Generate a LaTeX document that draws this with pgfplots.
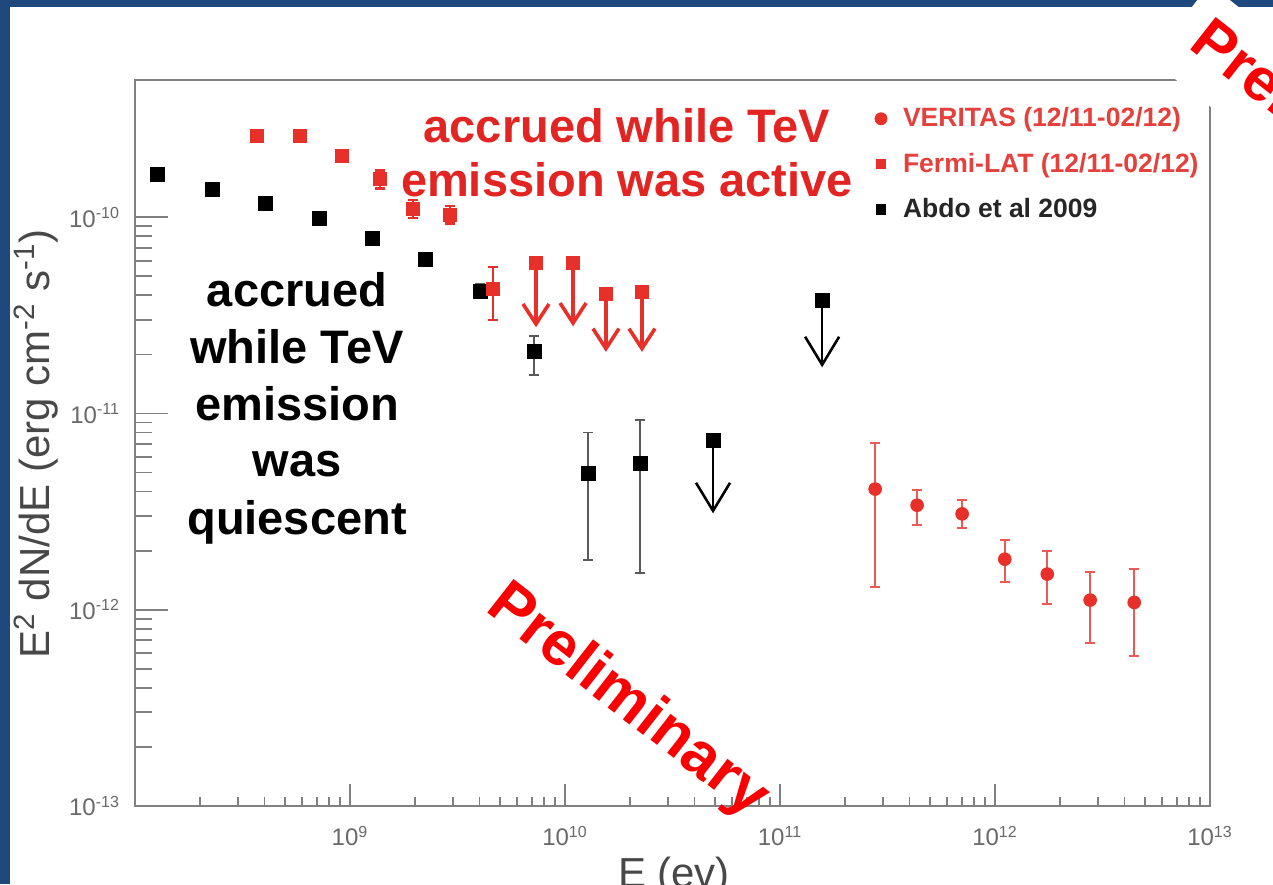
\documentclass[border=0pt]{standalone}
\usepackage{pgfplots}
\pgfplotsset{compat=1.18}
\usepackage{fontspec}
\setmainfont{Liberation Sans}
\usetikzlibrary{arrows.meta}

\definecolor{frameblue}{RGB}{31,73,125}
\definecolor{datared}{RGB}{232,48,42}
\definecolor{barred}{RGB}{236,90,85}
\definecolor{legendred}{RGB}{228,64,60}
\definecolor{textred}{RGB}{226,36,34}
\definecolor{prelimred}{RGB}{250,0,0}
\definecolor{axisgray}{RGB}{128,128,128}
\definecolor{labelgray}{RGB}{72,72,72}
\definecolor{ticklabelgray}{RGB}{105,105,105}
\definecolor{bargray}{RGB}{90,90,90}

\begin{document}
\begin{tikzpicture}[x=0.5pt,y=0.5pt]
\path[use as bounding box] (0,0) rectangle (1273,884);
\clip (0,0) rectangle (1273,884);
% slide frame
\fill[frameblue] (0,0) rectangle (1273,884);
\fill[white] (10,-20) rectangle (1300,877);

% left axis: y ticks (longer tick marks)
\begin{loglogaxis}[
  at={(67.5pt,39pt)}, anchor=south west,
  scale only axis, width=537.5pt, height=363pt,
  xmin=1e8, xmax=1e13, ymin=1e-13, ymax=5e-10,
  axis line style={axisgray, line width=1.3pt},
  tick align=inside, tick pos=left,
  tick style={axisgray, line width=0.9pt},
  tick label style={text=ticklabelgray, font=\fontsize{12}{14}\selectfont},
  yticklabel style={xshift=-4pt},
  hide x axis,
  major tick length=16.5pt, minor tick length=8.5pt,
  ytick={1e-13,1e-12,1e-11,1e-10},
  yticklabels={10\textsuperscript{-13},10\textsuperscript{-12},10\textsuperscript{-11},10\textsuperscript{-10}},
]
\end{loglogaxis}

% bottom axis, data and legend
\begin{loglogaxis}[
  at={(67.5pt,39pt)}, anchor=south west,
  scale only axis, width=537.5pt, height=363pt,
  xmin=1e8, xmax=1e13, ymin=1e-13, ymax=5e-10,
  axis line style={axisgray, line width=1.3pt},
  tick align=inside, tick pos=left,
  tick style={axisgray, line width=0.9pt},
  tick label style={text=ticklabelgray, font=\fontsize{12}{14}\selectfont},
  major tick length=11pt, minor tick length=4.5pt,
  ytick=\empty, yminorticks=false,
  xtick={1e8,1e9,1e10,1e11,1e12,1e13},
  xticklabels={,10\textsuperscript{9},10\textsuperscript{10},10\textsuperscript{11},10\textsuperscript{12},10\textsuperscript{13}},
  xticklabel style={yshift=-6.5pt},
  legend style={at={(0.688,0.968)}, anchor=north west, draw=none, fill=none,
    font=\bfseries\fontsize{13.25}{15}\selectfont, row sep=7.5pt, inner sep=0pt,
    /tikz/every odd column/.append style={column sep=6pt}},
  legend cell align=left,
  legend image code/.code={\draw[#1] plot coordinates {(0.15cm,0cm)};},
]
% upper limits: Abdo et al 2009
\addplot[forget plot, black, line width=1.3pt, -{Straight Barb[length=14pt,width=17pt,line width=1.3pt]}]
  coordinates {(4.88e10,7.3e-12) (4.88e10,3.1e-12)};
\addplot[forget plot, black, line width=1.3pt, -{Straight Barb[length=14pt,width=17pt,line width=1.3pt]}]
  coordinates {(1.57e11,3.78e-11) (1.57e11,1.72e-11)};
% upper limits: Fermi-LAT
\addplot[forget plot, datared, line width=1.8pt, -{Straight Barb[length=10pt,width=13pt,line width=1.8pt]}]
  coordinates {(7.33e9,5.83e-11) (7.33e9,2.75e-11)};
\addplot[forget plot, datared, line width=1.8pt, -{Straight Barb[length=10pt,width=13pt,line width=1.8pt]}]
  coordinates {(1.09e10,5.83e-11) (1.09e10,2.78e-11)};
\addplot[forget plot, datared, line width=1.8pt, -{Straight Barb[length=10pt,width=13pt,line width=1.8pt]}]
  coordinates {(1.55e10,4.05e-11) (1.55e10,2.06e-11)};
\addplot[forget plot, datared, line width=1.8pt, -{Straight Barb[length=10pt,width=13pt,line width=1.8pt]}]
  coordinates {(2.28e10,4.15e-11) (2.28e10,2.06e-11)};

% Abdo et al 2009
\addplot[forget plot, only marks, mark=square*, mark size=3.5pt, black,
  error bars/.cd, y dir=both, y explicit,
  error bar style={bargray, line width=0.9pt},
  error mark options={rotate=90, mark size=2.5pt, bargray, line width=0.9pt}]
coordinates {
  (1.265e8,1.66e-10) += (0,0) -= (0,0)
  (2.28e8,1.39e-10)  += (0,0) -= (0,0)
  (4.03e8,1.17e-10)  += (0,0) -= (0,0)
  (7.18e8,9.9e-11)   += (0,0) -= (0,0)
  (1.265e9,7.8e-11)  += (0,0) -= (0,0)
  (2.25e9,6.1e-11)   += (0,0) -= (0,0)
  (4.03e9,4.2e-11)   += (0,3.5e-12) -= (0,3.5e-12)
  (7.18e9,2.06e-11)  += (0,0.42e-11) -= (0,0.49e-11)
  (1.28e10,4.96e-12) += (0,3.04e-12) -= (0,3.17e-12)
  (2.23e10,5.58e-12) += (0,3.67e-12) -= (0,4.04e-12)
  (4.88e10,7.3e-12)  += (0,0) -= (0,0)
  (1.57e11,3.78e-11) += (0,0) -= (0,0)
};

% VERITAS (12/11-02/12)
\addplot[forget plot, only marks, mark=*, mark size=3.2pt, datared,
  error bars/.cd, y dir=both, y explicit,
  error bar style={barred, line width=0.9pt},
  error mark options={rotate=90, mark size=2.5pt, barred, line width=0.9pt}]
coordinates {
  (2.77e11,4.12e-12) += (0,2.94e-12) -= (0,2.81e-12)
  (4.34e11,3.41e-12) += (0,0.66e-12) -= (0,0.71e-12)
  (7.03e11,3.08e-12) += (0,0.54e-12) -= (0,0.47e-12)
  (1.11e12,1.81e-12) += (0,0.45e-12) -= (0,0.43e-12)
  (1.75e12,1.52e-12) += (0,0.47e-12) -= (0,0.45e-12)
  (2.77e12,1.12e-12) += (0,0.44e-12) -= (0,0.44e-12)
  (4.44e12,1.09e-12) += (0,0.52e-12) -= (0,0.51e-12)
};

% Fermi-LAT (12/11-02/12)
\addplot[forget plot, only marks, mark=square*, mark size=3.25pt, datared,
  error bars/.cd, y dir=both, y explicit,
  error bar style={datared, line width=1.2pt},
  error mark options={rotate=90, mark size=2.5pt, datared, line width=1.2pt}]
coordinates {
  (3.69e8,2.59e-10)  += (0,0) -= (0,0)
  (5.85e8,2.59e-10)  += (0,0) -= (0,0)
  (9.18e8,2.05e-10)  += (0,0) -= (0,0)
  (1.38e9,1.56e-10)  += (0,1.7e-11) -= (0,1.6e-11)
  (1.96e9,1.10e-10)  += (0,1.2e-11) -= (0,1.1e-11)
  (2.92e9,1.03e-10)  += (0,1.1e-11) -= (0,1.0e-11)
  (4.62e9,4.3e-11)   += (0,1.27e-11) -= (0,1.31e-11)
  (7.33e9,5.83e-11)  += (0,0) -= (0,0)
  (1.09e10,5.83e-11) += (0,0) -= (0,0)
  (1.55e10,4.05e-11) += (0,0) -= (0,0)
  (2.28e10,4.15e-11) += (0,0) -= (0,0)
};

\addlegendimage{only marks, mark=*, mark size=3pt, datared}
\addlegendentry{\textcolor{legendred}{VERITAS (12/11-02/12)}}
\addlegendimage{only marks, mark=square*, mark size=2.4pt, datared}
\addlegendentry{\textcolor{legendred}{Fermi-LAT (12/11-02/12)}}
\addlegendimage{only marks, mark=square*, mark size=2.4pt, black}
\addlegendentry{\textcolor{black!85}{Abdo et al 2009}}
\end{loglogaxis}

% axis titles
\node[rotate=90, text=labelgray, font=\fontsize{21}{25}\selectfont] at (36,440)
  {E\textsuperscript{2} dN/dE (erg cm\textsuperscript{-2} s\textsuperscript{-1})};
\node[anchor=base, text=labelgray, font=\fontsize{21}{25}\selectfont] at (674,-3) {E (ev)};

% annotations
\begin{scope}[every node/.style={anchor=base, font=\bfseries\fontsize{23.5}{28}\selectfont}]
  \node[text=textred] at (627,741) {accrued while TeV};
  \node[text=textred] at (627,687) {emission was active};
  \node at (297,577) {accrued};
  \node at (297,520) {while TeV};
  \node at (297,463) {emission};
  \node at (297,407) {was};
  \node at (297,350) {quiescent};
\end{scope}

\node[rotate=-38, text=prelimred, font=\bfseries\fontsize{31}{37}\selectfont] at (627,182) {Preliminary};
\node[fill=white, rounded corners=8pt, rotate=-38, anchor=south west, inner xsep=11pt, inner ysep=10pt,
  text=prelimred, font=\bfseries\fontsize{30}{36}\selectfont] at (1150,824) {Preliminary};
\end{tikzpicture}
\end{document}
